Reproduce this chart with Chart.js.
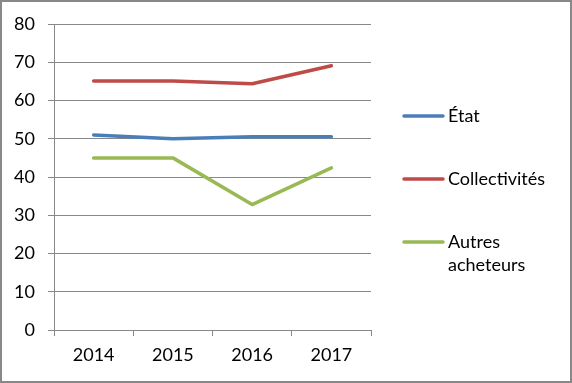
<!DOCTYPE html>
<html>
<head>
<meta charset="utf-8">
<script src="https://cdn.jsdelivr.net/npm/chart.js@4/dist/chart.umd.min.js"></script>
<style>
  html, body { margin: 0; padding: 0; background: #fff; }
  #wrap { width: 572px; height: 383px; box-sizing: border-box; border: 2px solid #888; position: relative; }
  canvas { position: absolute; left: -2px; top: -2px; }
</style>
</head>
<body>
<div id="wrap"><canvas id="chart" width="572" height="383"></canvas></div>
<script>
// values
const years = ['2014', '2015', '2016', '2017'];
const etat = [51.0, 50.0, 50.5, 50.5];
const collectivites = [65.1, 65.1, 64.4, 69.1];
const autres = [45.0, 45.0, 32.8, 42.4];
const seriesNames = ['État', 'Collectivités', ['Autres', 'acheteurs']];
const seriesColors = ['#4A7EBB', '#BE4B48', '#98B954'];

const FONT = { family: 'Lato', size: 18 };

// legend drawn at the right like the Excel original
const sideLegend = {
  id: 'sideLegend',
  afterDraw(chart) {
    const ctx = chart.ctx;
    const rows = [116, 179, 242];
    ctx.save();
    chart.data.datasets.forEach((ds, i) => {
      const y = rows[i];
      ctx.strokeStyle = ds.borderColor;
      ctx.lineWidth = 3.5;
      ctx.lineCap = 'round';
      ctx.beginPath();
      ctx.moveTo(404, y);
      ctx.lineTo(443, y);
      ctx.stroke();
      ctx.fillStyle = '#000';
      ctx.font = FONT.size + 'px ' + FONT.family;
      ctx.textBaseline = 'middle';
      ctx.textAlign = 'left';
      const lines = [].concat(ds.legendText);
      lines.forEach((t, j) => ctx.fillText(t, 448, y + j * 23));
    });
    ctx.restore();
  }
};

const datasets = [etat, collectivites, autres].map((d, i) => ({
  label: [].concat(seriesNames[i]).join(' '),
  legendText: seriesNames[i],
  data: d,
  borderColor: seriesColors[i],
  backgroundColor: seriesColors[i],
  borderWidth: 3.5,
  borderCapStyle: 'round',
  borderJoinStyle: 'round',
  pointRadius: 0,
  tension: 0
}));

new Chart(document.getElementById('chart'), {
  type: 'line',
  data: { labels: years, datasets },
  plugins: [sideLegend],
  options: {
    responsive: false,
    animation: false,
    layout: { padding: { left: 0, top: 24, right: 201, bottom: 0 } },
    plugins: { legend: { display: false }, tooltip: { enabled: false } },
    scales: {
      x: {
        offset: true,
        grid: { offset: true, drawOnChartArea: false, drawTicks: true, tickLength: 6, color: '#888' },
        border: { color: '#888', width: 1 },
        ticks: { color: '#000', font: FONT, padding: 8 },
        afterFit: s => { s.height = 53; }
      },
      y: {
        min: 0, max: 80,
        ticks: { stepSize: 10, color: '#000', font: FONT, padding: 13 },
        grid: { color: '#888', tickLength: 6 },
        border: { color: '#888', width: 1 },
        afterFit: s => { s.width = 54; }
      }
    }
  }
});
</script>
</body>
</html>
